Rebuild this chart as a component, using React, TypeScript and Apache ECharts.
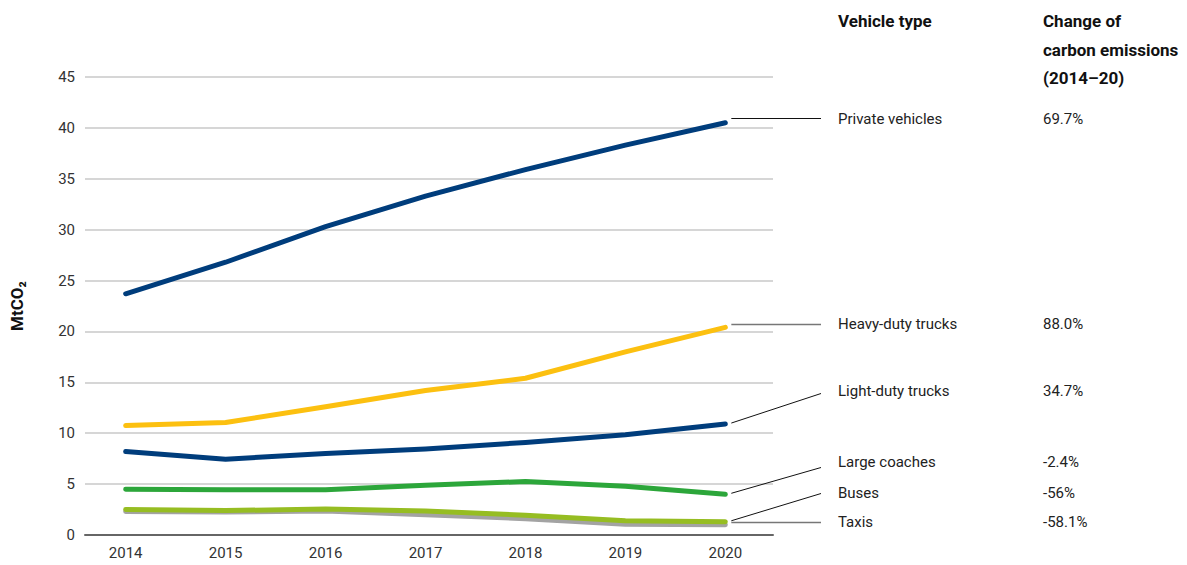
import React, { useEffect, useRef } from "react";
import * as echarts from "echarts";

const years = [2014, 2015, 2016, 2017, 2018, 2019, 2020];
const yTicks = [0, 5, 10, 15, 20, 25, 30, 35, 40, 45];

const privateVehicles = [23.7, 26.8, 30.3, 33.3, 35.9, 38.3, 40.5];
const heavyDutyTrucks = [10.75, 11.05, 12.6, 14.2, 15.4, 18.0, 20.4];
const lightDutyTrucks = [8.2, 7.45, 8.0, 8.45, 9.1, 9.85, 10.9];
const largeCoaches = [4.5, 4.45, 4.45, 4.9, 5.25, 4.8, 4.0];
const buses = [2.5, 2.4, 2.55, 2.35, 1.95, 1.4, 1.3];
const taxis = [2.3, 2.25, 2.35, 2.0, 1.6, 1.05, 1.0];

const seriesNames = ["Taxis", "Buses", "Large coaches", "Light-duty trucks", "Heavy-duty trucks", "Private vehicles"];
const seriesValues = [taxis, buses, largeCoaches, lightDutyTrucks, heavyDutyTrucks, privateVehicles];
const seriesColors = ["#a3a3a3", "#96bd22", "#2ca63a", "#003d7c", "#fcc010", "#003d7c"];

const labelNames = ["Private vehicles", "Heavy-duty trucks", "Light-duty trucks", "Large coaches", "Buses", "Taxis"];
const labelChanges = ["69.7%", "88.0%", "34.7%", "-2.4%", "-56%", "-58.1%"];
const labelY = [119, 324, 391, 462, 493, 522];
const leaderY = [118.5, 324.5, 393.5, 467.5, 493.5, 522.5];
const labelSeries = [privateVehicles, heavyDutyTrucks, lightDutyTrucks, largeCoaches, buses, taxis];
const leaderHorizontal = [true, true, false, false, false, true];
const leaderColor = ["#111", "#777", "#111", "#111", "#111", "#777"];

const FONT = "Roboto, 'Noto Sans', sans-serif";

export default function App() {
  const ref = useRef<HTMLDivElement>(null);
  useEffect(() => {
    document.body.style.margin = "0";
    if (!ref.current) return;
    const chart = echarts.init(ref.current, undefined, { renderer: "svg" });
    const option: any = {
      animation: false,
      grid: { left: 80, right: 1187 - 773, top: 77, bottom: 30, containLabel: false },
      xAxis: {
        type: "value",
        min: 2013.593,
        max: 2020.477,
        splitNumber: 6,
        axisLine: { show: true, lineStyle: { color: "#666", width: 2 } },
        axisTick: { show: false },
        splitLine: { show: false },
        axisLabel: {
          fontFamily: FONT,
          fontSize: 15,
          color: "#333",
          margin: 10,
          showMinLabel: false,
          showMaxLabel: false,
          formatter: (v: number) => (years.indexOf(Math.round(v * 1000) / 1000) >= 0 ? String(v) : ""),
        },
      },
      yAxis: {
        type: "value",
        min: 0,
        max: 45,
        interval: 5,
        name: "MtCO\u2082",
        nameLocation: "middle",
        nameRotate: 90,
        nameGap: 60,
        nameTextStyle: { fontFamily: FONT, fontSize: 17, fontWeight: "bold", color: "#111" },
        axisLine: { show: false },
        axisTick: { show: false },
        splitLine: { lineStyle: { color: "#c8c8c8", width: 1.5 } },
        axisLabel: {
          fontFamily: FONT,
          fontSize: 15,
          color: "#333",
          margin: 10,
          formatter: (v: number) => (yTicks.indexOf(v) >= 0 ? String(v) : ""),
        },
      },
      series: seriesNames.map((name, i) => ({
        name,
        type: "line",
        data: years.map((y, j) => [y, seriesValues[i][j]]),
        symbol: "none",
        lineStyle: { color: seriesColors[i], width: 5, cap: "round", join: "round" },
        z: 2 + i,
      })),
    };
    chart.setOption(option);

    const graphics: any[] = [];
    graphics.push({
      type: "text",
      x: 838,
      y: 21,
      style: { text: "Vehicle type", fontFamily: FONT, fontSize: 17, fontWeight: "bold", fill: "#111", verticalAlign: "middle" },
    });
    ["Change of", "carbon emissions", "(2014\u201320)"].forEach((t, i) => {
      graphics.push({
        type: "text",
        x: 1043,
        y: 21 + i * 28.5,
        style: { text: t, fontFamily: FONT, fontSize: 17, fontWeight: "bold", fill: "#111", verticalAlign: "middle" },
      });
    });
    labelNames.forEach((n, i) => {
      graphics.push({
        type: "text",
        x: 838,
        y: labelY[i],
        style: { text: n, fontFamily: FONT, fontSize: 15, fill: "#222", verticalAlign: "middle" },
      });
      graphics.push({
        type: "text",
        x: 1043,
        y: labelY[i],
        style: { text: labelChanges[i], fontFamily: FONT, fontSize: 15, fill: "#222", verticalAlign: "middle" },
      });
      const vals = labelSeries[i];
      const p = chart.convertToPixel({ gridIndex: 0 }, [years[years.length - 1], vals[vals.length - 1]]) as number[];
      const x1 = p[0] + 6;
      const y1 = leaderHorizontal[i] ? leaderY[i] : p[1] - 1;
      graphics.push({
        type: "line",
        shape: { x1, y1, x2: 821, y2: leaderY[i] },
        style: { stroke: leaderColor[i], lineWidth: leaderHorizontal[i] && leaderColor[i] !== "#111" ? 1.5 : 1 },
      });
    });
    chart.setOption({ graphic: graphics });

    return () => chart.dispose();
  }, []);
  return <div ref={ref} style={{ width: 1187, height: 565 }} />;
}
